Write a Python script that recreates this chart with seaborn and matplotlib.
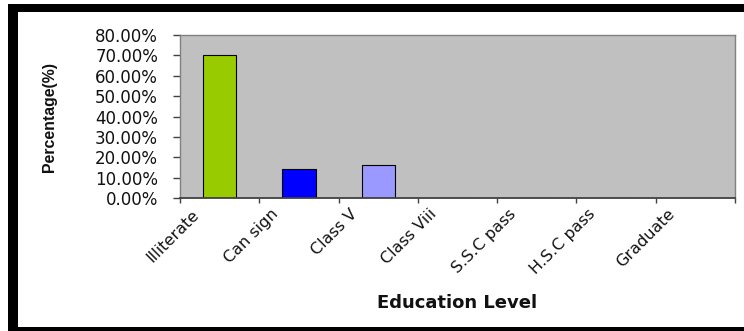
import numpy as np
import pandas as pd
import matplotlib
matplotlib.use("Agg")
import matplotlib.pyplot as plt
import matplotlib.transforms as mtransforms
from matplotlib.patches import Rectangle
from matplotlib.ticker import FuncFormatter
import seaborn as sns

# Share of respondents by education level (percent)
levels = ["Illiterate", "Can sign", "Class V", "Class Viii",
          "S.S.C pass", "H.S.C pass", "Graduate"]
share_pct = [70.0, 14.0, 16.0, 0.0, 0.0, 0.0, 0.0]
bar_colors = ["#99CC00", "#0000FF", "#9999FF", "#993366",
              "#FFFFCC", "#CCFFFF", "#660066"]
y_ticks = [0, 10, 20, 30, 40, 50, 60, 70, 80]

df = pd.DataFrame({"level": levels, "share": share_pct})

sns.set_theme(style="white")
plt.rcParams["font.family"] = ["DejaVu Sans"]

W, H = 744, 331
fig = plt.figure(figsize=(W / 100, H / 100), dpi=100)
fig.patch.set_facecolor("white")

# plot area in pixel terms: x 180..735, y 35..198 (from top)
ax = fig.add_axes([180 / W, 1 - 198 / H, (735 - 180) / W, (198 - 35) / H])

sns.barplot(data=df, x="level", y="share", hue="level", palette=bar_colors,
            legend=False, width=0.42, edgecolor="black", linewidth=0.8,
            saturation=1, ax=ax)

ax.set_facecolor("#C0C0C0")
ax.set_xlim(-0.5, 6.5)
ax.set_ylim(0, 80)

for side in ["top", "right", "left"]:
    ax.spines[side].set_color("#808080")
    ax.spines[side].set_linewidth(1.0)
ax.spines["bottom"].set_color("#404040")
ax.spines["bottom"].set_linewidth(1.3)

# y axis: percentage ticks
ax.set_yticks(y_ticks)
ax.yaxis.set_major_formatter(FuncFormatter(lambda v, _: f"{v:.2f}%"))
ax.tick_params(axis="y", left=True, direction="out", length=5, width=1,
               color="#404040", pad=10.8, labelsize=12, labelcolor="#111111")

# x axis: tick marks between categories, labels at category centres
ax.set_xticks(np.arange(-0.5, 7.0, 1.0))
ax.set_xticklabels([])
ax.set_xticks(range(len(levels)), minor=True)
ax.set_xticklabels(levels, minor=True)
ax.tick_params(axis="x", which="major", bottom=True, direction="out",
               length=3.6, width=1, color="#404040")
ax.tick_params(axis="x", which="minor", bottom=True, length=0, pad=10,
               labelsize=11.5, labelcolor="#111111")

shift = mtransforms.ScaledTranslation(-0.23, 0, fig.dpi_scale_trans)
for lab in ax.get_xticklabels(minor=True):
    lab.set_rotation(45)
    lab.set_ha("right")
    lab.set_va("center")
    lab.set_rotation_mode("anchor")
    lab.set_transform(lab.get_transform() + shift)

ax.set_ylabel("Percentage(%)", fontsize=11.4, fontweight="bold",
              family=["Liberation Sans", "DejaVu Sans"], color="#111111")
ax.yaxis.set_label_coords(-0.2216, 0.5)

ax.set_xlabel("Education Level", fontsize=13, fontweight="bold",
              color="#111111")
ax.xaxis.set_label_coords(0.5, (198 - 294) / (198 - 35))

# black frame around the chart (top, left and bottom edges)
frame = dict(transform=fig.transFigure, color="black", lw=0, zorder=10)
fig.add_artist(Rectangle((8 / W, 1 - 12 / H), 1 - 8 / W, 8 / H, **frame))
fig.add_artist(Rectangle((8 / W, 0), 10 / W, 1 - 4 / H, **frame))
fig.add_artist(Rectangle((8 / W, 0), 1 - 8 / W, 4 / H, **frame))

fig.savefig("out.png", dpi=100, facecolor="white")
